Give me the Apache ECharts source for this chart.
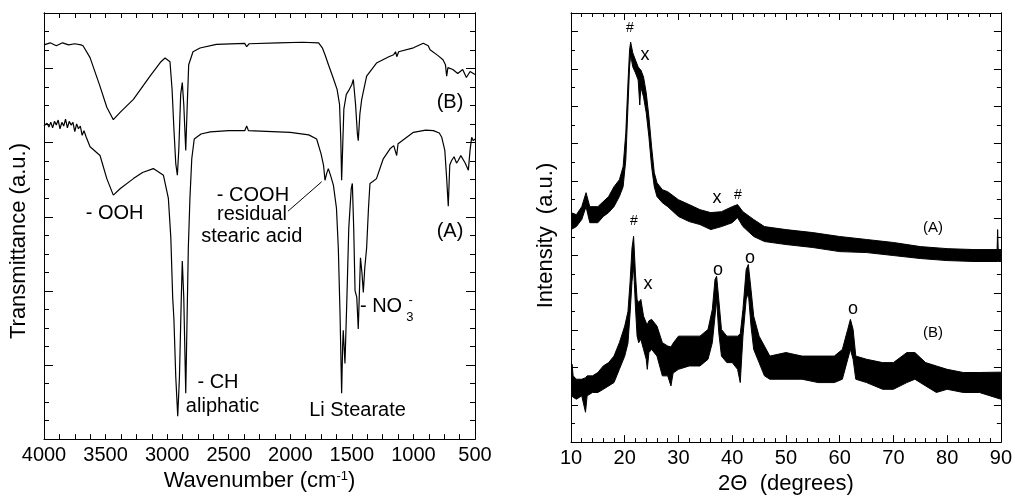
<!DOCTYPE html>
<html>
<head>
<meta charset="utf-8">
<script src="https://cdn.jsdelivr.net/npm/echarts@6/dist/echarts.min.js"></script>
<style>
html,body{margin:0;padding:0;background:#fff;}
#chart{width:1015px;height:500px;}
</style>
</head>
<body>
<div id="chart"></div>
<script>
// ---------------- DATA ----------------
// FTIR (left panel) — wavenumber (cm-1) and transmittance (a.u.)
const ftirTicks = [4000, 3500, 3000, 2500, 2000, 1500, 1000, 500];
const ftirWnB = [4000,3950,3900,3850,3800,3750,3700,3683,3626,3545,3490,3437,3380,3274,3139,3050,3017,2977,2960,2945,2930,2917,2905,2890,2877,2865,2849,2838,2825,2790,2733,2600,2370,2354,2335,2100,1900,1770,1740,1718,1690,1653,1620,1600,1590,1583,1575,1565,1545,1520,1500,1488,1470,1455,1448,1435,1420,1380,1300,1200,1160,1145,1135,1120,1000,920,880,865,800,760,740,730,720,680,640,600,570,540,500];
const ftirB = [21.28,21.39,21.23,21.39,21.28,21.34,21.28,21.23,20.59,19.04,17.91,17.24,17.65,18.34,19.59,20.37,20.57,20.37,18.88,16.74,14.87,14.24,15.67,18.61,19.24,18.07,15.58,17.81,20.21,20.91,21.11,21.31,21.36,21.18,21.34,21.39,21.42,21.39,21.12,20.75,20.21,19.52,18.88,18.07,16.20,13.97,15.67,17.81,18.61,18.88,19.14,19.41,18.07,16.47,16.11,17.54,18.34,19.59,20.30,20.64,20.75,20.91,20.64,20.91,21.12,21.37,21.23,21.02,20.70,20.48,20.21,19.59,20.05,19.95,19.73,19.95,19.52,19.84,19.68];
const ftirWnA = [4000,3975,3960,3945,3930,3915,3900,3885,3870,3855,3840,3825,3810,3795,3780,3765,3750,3735,3720,3705,3690,3675,3660,3626,3545,3490,3437,3380,3274,3200,3112,3030,2990,2970,2955,2945,2930,2914,2900,2885,2877,2865,2849,2838,2828,2815,2800,2780,2725,2650,2500,2370,2354,2340,2000,1850,1786,1750,1730,1718,1705,1691,1670,1650,1625,1610,1596,1583,1575,1570,1556,1540,1525,1505,1496,1485,1474,1460,1448,1440,1430,1418,1407,1395,1380,1365,1353,1330,1300,1245,1190,1160,1145,1136,1125,1110,1000,900,838,790,770,745,730,717,705,690,670,650,636,615,600,580,554,540,527,514,500];
const ftirA = [16.91,17.05,16.85,17.11,16.80,17.15,16.95,17.22,16.75,17.10,16.90,17.27,16.80,17.15,16.95,17.10,16.60,17.01,16.75,16.90,16.40,16.65,16.35,15.78,15.31,14.06,13.17,13.53,14.06,14.39,14.60,14.24,12.99,10.86,7.65,6.47,3.37,1.23,3.37,7.65,9.61,7.65,2.48,6.58,10.32,12.99,15.13,16.20,16.47,16.58,16.65,16.65,16.90,16.65,16.56,16.42,16.20,15.40,14.78,13.97,14.33,14.60,14.17,13.71,12.46,10.32,6.75,2.48,4.97,5.87,4.08,7.65,11.39,13.53,13.80,11.39,8.01,7.65,5.95,7.65,9.79,8.98,7.91,9.25,10.32,12.46,13.80,13.90,14.06,15.13,15.67,15.84,15.78,15.31,15.94,16.03,16.56,16.68,16.65,16.52,16.29,15.58,14.06,12.57,14.80,15.04,15.24,14.90,15.04,15.30,15.24,14.90,14.51,15.60,16.29,16.11,16.20];

// XRD (right panel) — 2theta (deg) and intensity (a.u.), noisy trace read as lower / upper envelope
const xrdTicks = [10, 20, 30, 40, 50, 60, 70, 80, 90];
const xrdThetaA = [10,11,12,12.8,13.5,15,16,17,18,19,19.7,20.2,20.6,20.9,21.1,21.5,22,22.5,22.8,23,23.5,24,24.5,25,25.5,26,27,28,30,32,34,36,38,40,41,42,44,46,50,55,60,65,70,75,80,85,89.3,89.4,89.5,90];
const xrdA_low = [11.39,11.55,11.93,12.62,11.76,11.76,12.09,12.30,12.62,13.16,13.69,15.13,17.97,20.11,20.75,20.11,19.79,19.41,18.07,19.04,18.50,17.65,16.36,14.76,13.69,13.16,12.83,12.62,12.09,11.82,11.66,11.39,11.55,11.76,12.03,11.55,11.02,10.75,10.59,10.43,10.21,10.16,10.00,9.84,9.73,9.68,9.68,9.68,9.68,9.68];
const xrdA_high = [12.30,12.19,12.62,13.37,12.62,12.62,12.89,13.16,13.69,14.06,14.76,16.58,19.25,21.02,21.44,20.86,20.48,20.11,20.00,19.95,19.57,18.72,17.43,15.83,14.44,13.90,13.53,13.42,12.99,12.73,12.46,12.30,12.35,12.62,12.73,12.35,11.93,11.55,11.39,11.23,11.02,10.86,10.70,10.48,10.37,10.32,10.32,11.39,10.32,10.32];
const xrdThetaB = [10,10.2,10.4,11,12,12.7,13,14,15,16,17,18,19,20,20.6,21,21.35,21.65,22,22.3,22.6,23,23.5,24,24.2,24.5,25,26,27,28,28.6,29,30,32,34,35.5,36.3,36.8,37.1,37.5,38,39,40,41,41.5,42,42.6,43,43.5,44,45,46,47,50,53,56,59,60.5,61.5,62,62.5,63,65,68,70,72.5,74,76,78,80,83,86,90];
const xrdB_low = [2.48,2.48,2.40,2.30,2.48,1.60,2.48,2.66,2.66,2.83,3.01,3.19,3.90,4.61,5.30,6.90,8.60,9.43,7.20,5.68,5.33,5.51,4.97,4.44,3.90,4.80,4.97,4.61,3.55,3.55,3.01,3.70,3.90,4.08,4.08,4.44,5.33,6.75,7.65,5.87,4.61,4.26,4.26,3.90,3.19,5.68,7.65,8.01,6.22,4.97,4.26,3.55,3.37,3.37,3.37,3.19,3.19,3.37,4.44,4.97,4.44,3.37,3.19,2.83,2.83,3.19,3.37,3.01,2.66,2.83,2.66,2.66,2.30];
const xrdB_high = [3.55,4.17,3.55,3.37,3.37,3.45,3.55,3.55,3.73,4.08,4.26,4.61,5.33,6.22,7.00,8.60,10.40,11.03,9.00,7.65,7.47,7.65,6.75,6.40,6.30,6.50,6.58,6.22,5.33,5.15,5.10,5.30,5.68,5.68,5.68,6.04,7.11,8.72,8.89,7.65,6.04,5.68,5.68,5.68,5.80,7.11,9.25,9.52,8.18,6.75,5.68,5.15,4.61,4.80,4.61,4.61,4.61,4.97,6.04,6.58,6.04,4.61,4.44,4.26,4.26,4.80,4.80,4.26,4.08,3.90,3.73,3.73,3.75];

// Text annotations, anchored in data coordinates (panel 0 = FTIR, 1 = XRD)
const annotations = [
  {p:0, x:703,  y:18.16, t:'(B)'},
  {p:0, x:703,  y:11.18, t:'(A)'},
  {p:0, x:3427, y:12.19, t:'- OOH'},
  {p:0, x:2303, y:13.16, t:'- COOH'},
  {p:0, x:2311, y:12.11, t:'residual'},
  {p:0, x:2313, y:10.94, t:'stearic acid'},
  {p:0, x:2587, y:3.05,  t:'- CH'},
  {p:0, x:2550, y:1.76,  t:'aliphatic'},
  {p:0, x:1454, y:1.52,  t:'Li Stearate'},
  {p:0, x:1263, y:7.17,  t:'- NO'},
  {p:0, x:1028, y:6.58,  t:'3', small:true},
  {p:0, x:1022, y:7.50,  t:'-', small:true},
  {p:1, x:20.98, y:22.19, t:'#', hash:true},
  {p:1, x:23.77, y:20.75, t:'x', mark:true},
  {p:1, x:37.16, y:13.10, t:'x', mark:true},
  {p:1, x:41.07, y:13.26, t:'#', hash:true},
  {p:1, x:77.35, y:11.50, t:'(A)', tag:true},
  {p:1, x:21.72, y:11.87, t:'#', hash:true},
  {p:1, x:24.33, y:8.45,  t:'x', mark:true},
  {p:1, x:37.35, y:9.20,  t:'o', mark:true},
  {p:1, x:43.30, y:9.89,  t:'o', mark:true},
  {p:1, x:62.47, y:7.11,  t:'o', mark:true},
  {p:1, x:77.35, y:5.86,  t:'(B)', tag:true}
];
// pointer line from "residual" label to the -COOH shoulder
const pointerLine = {x1:2019, y1:12.30, x2:1745, y2:13.89};

// ---------------- CHART ----------------
const FONT = '"Liberation Sans", Arial, Helvetica, sans-serif';
const BLACK = '#000';
const chart = echarts.init(document.getElementById('chart'), null, {renderer:'canvas'});

function zip(a, b) { return a.map((v, i) => [v, b[i]]); }

function xAx(grid, pos, min, max, interval, minorSplit, majorLen, minorLen, inverse, showLabel, name) {
  return {
    type:'value', gridIndex:grid, position:pos, min:min, max:max, interval:interval, inverse:inverse,
    axisLine:{show:true, onZero:false, lineStyle:{color:BLACK, width:1}},
    axisTick:{show:true, inside:true, length:majorLen, lineStyle:{color:BLACK, width:1}},
    minorTick:{show:true, splitNumber:minorSplit, length:minorLen, lineStyle:{color:BLACK, width:1}},
    splitLine:{show:false}, minorSplitLine:{show:false},
    axisLabel:{show:showLabel, color:BLACK, fontSize:20, fontFamily:FONT, margin:6,
      formatter:function (v) { return String(v); }},
    name:name || '', nameLocation:'middle', nameGap:24,
    nameTextStyle:{color:BLACK, fontSize:22, fontFamily:FONT,
      rich:{sup:{fontSize:13, fontFamily:FONT, color:BLACK, verticalAlign:'top', lineHeight:14, padding:[0,0,12,0]}}}
  };
}
function yAx(grid, pos, interval, tickLen, name, shift) {
  return {
    type:'value', gridIndex:grid, position:pos, min:0, max:23, interval:interval,
    axisLine:{show:true, onZero:false, lineStyle:{color:BLACK, width:1}},
    axisTick:{show:true, inside:true, length:tickLen, lineStyle:{color:BLACK, width:1}},
    splitLine:{show:false},
    axisLabel:{show:false},
    name:name || '', nameLocation:'middle', nameGap:14,
    nameTextStyle:{color:BLACK, fontSize:22, fontFamily:FONT, padding:[0, shift || 0, 0, 0]}
  };
}

function bandSeries(xi, yi, theta, low, high) {
  return {
    type:'custom', xAxisIndex:xi, yAxisIndex:yi, clip:true, silent:true,
    data: theta.map((t, i) => [t, low[i], high[i]]),
    encode:{x:0, y:[1,2]},
    renderItem: function (params, api) {
      if (params.dataIndex !== 0) return null;
      const pts = [];
      for (let i = 0; i < theta.length; i++) pts.push(api.coord([theta[i], high[i]]));
      for (let i = theta.length - 1; i >= 0; i--) pts.push(api.coord([theta[i], low[i]]));
      return {type:'polygon', shape:{points:pts}, style:{fill:BLACK, stroke:BLACK, lineWidth:1}};
    }
  };
}

const option = {
  animation:false,
  backgroundColor:'#fff',
  textStyle:{fontFamily:FONT},
  grid:[
    {left:44, right:540, top:13, bottom:57},
    {left:571, right:14, top:13, bottom:57}
  ],
  xAxis:[
    xAx(0,'bottom', ftirTicks[ftirTicks.length-1], ftirTicks[0], ftirTicks[0]-ftirTicks[1], 4, 5, 5, true, true, 'Wavenumber (cm{sup|-1})'),
    xAx(0,'top',    ftirTicks[ftirTicks.length-1], ftirTicks[0], ftirTicks[0]-ftirTicks[1], 4, 5, 5, true, false),
    xAx(1,'bottom', xrdTicks[0], xrdTicks[xrdTicks.length-1], xrdTicks[1]-xrdTicks[0], 5, 7, 4, false, true, '2\u0398  (degrees)'),
    xAx(1,'top',    xrdTicks[0], xrdTicks[xrdTicks.length-1], xrdTicks[1]-xrdTicks[0], 5, 7, 4, false, false)
  ],
  yAxis:[
    yAx(0,'left', 4, 9, 'Transmittance (a.u.)', 30),
    yAx(0,'left', 1, 5),
    yAx(0,'right', 4, 9),
    yAx(0,'right', 1, 5),
    yAx(1,'left', 2, 7, 'Intensity  (a.u.)', 16),
    yAx(1,'left', 1, 4),
    yAx(1,'right', 2, 7),
    yAx(1,'right', 1, 4)
  ],
  series:[
    {type:'line', name:'FTIR B', xAxisIndex:0, yAxisIndex:0, data:zip(ftirWnB, ftirB), showSymbol:false, symbol:'none', lineStyle:{color:BLACK, width:1.2}, silent:true},
    {type:'line', name:'FTIR A', xAxisIndex:0, yAxisIndex:0, data:zip(ftirWnA, ftirA), showSymbol:false, symbol:'none', lineStyle:{color:BLACK, width:1.2}, silent:true},
    bandSeries(2, 4, xrdThetaA, xrdA_low, xrdA_high),
    bandSeries(2, 4, xrdThetaB, xrdB_low, xrdB_high)
  ]
};
chart.setOption(option);

// place annotations through the axes' own scales
const gfx = [];
annotations.forEach(a => {
  const finder = a.p === 0 ? {xAxisIndex:0, yAxisIndex:0} : {xAxisIndex:2, yAxisIndex:4};
  const pt = chart.convertToPixel(finder, [a.x, a.y]);
  let size = 20;
  if (a.small) size = 13;
  if (a.hash) size = 14;
  if (a.mark) size = 18;
  if (a.tag) size = 15;
  gfx.push({type:'text', x:pt[0], y:pt[1], silent:true,
    style:{text:a.t, fill:BLACK, fontSize:size, fontFamily:FONT, align:'center', verticalAlign:'middle'}});
});
const p1 = chart.convertToPixel({xAxisIndex:0, yAxisIndex:0}, [pointerLine.x1, pointerLine.y1]);
const p2 = chart.convertToPixel({xAxisIndex:0, yAxisIndex:0}, [pointerLine.x2, pointerLine.y2]);
gfx.push({type:'line', silent:true, shape:{x1:p1[0], y1:p1[1], x2:p2[0], y2:p2[1]}, style:{stroke:BLACK, lineWidth:1}});
chart.setOption({graphic:gfx});
</script>
</body>
</html>
